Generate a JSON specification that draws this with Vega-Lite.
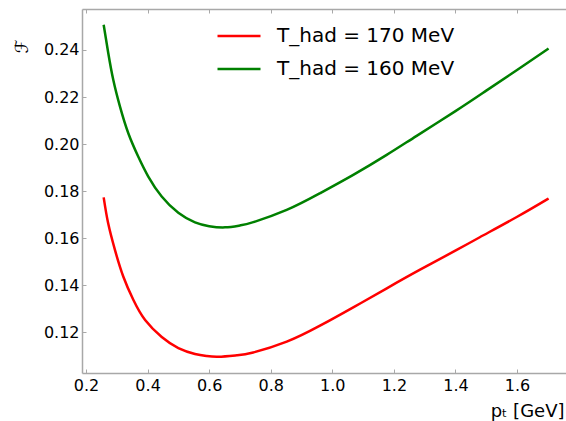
{
  "$schema": "https://vega.github.io/schema/vega-lite/v6.json",
  "width": 484,
  "height": 364,
  "autosize": {"type": "none"},
  "padding": {"left": 82, "top": 9, "right": 0, "bottom": 48},
  "background": "white",
  "config": {
    "view": {"stroke": null},
    "font": "DejaVu Sans",
    "axis": {
      "grid": false,
      "domainColor": "#a8a8a8",
      "domainWidth": 1.5,
      "tickColor": "#a8a8a8",
      "tickSize": -4,
      "tickWidth": 1,
      "labelFont": "DejaVu Sans",
      "labelFontSize": 16,
      "labelColor": "#000000",
      "titleFont": "DejaVu Sans",
      "titleColor": "#000000",
      "titleFontWeight": "normal"
    }
  },
  "data": {
    "values": [
      {"pT": 0.258, "F": 0.1768, "series": "T_had =  170 MeV"},
      {"pT": 0.272, "F": 0.1663, "series": "T_had =  170 MeV"},
      {"pT": 0.294, "F": 0.1550, "series": "T_had =  170 MeV"},
      {"pT": 0.321, "F": 0.1437, "series": "T_had =  170 MeV"},
      {"pT": 0.354, "F": 0.1337, "series": "T_had =  170 MeV"},
      {"pT": 0.392, "F": 0.1252, "series": "T_had =  170 MeV"},
      {"pT": 0.446, "F": 0.1180, "series": "T_had =  170 MeV"},
      {"pT": 0.500, "F": 0.1133, "series": "T_had =  170 MeV"},
      {"pT": 0.554, "F": 0.1108, "series": "T_had =  170 MeV"},
      {"pT": 0.592, "F": 0.1099, "series": "T_had =  170 MeV"},
      {"pT": 0.630, "F": 0.1096, "series": "T_had =  170 MeV"},
      {"pT": 0.690, "F": 0.1102, "series": "T_had =  170 MeV"},
      {"pT": 0.743, "F": 0.1114, "series": "T_had =  170 MeV"},
      {"pT": 0.852, "F": 0.1160, "series": "T_had =  170 MeV"},
      {"pT": 0.960, "F": 0.1228, "series": "T_had =  170 MeV"},
      {"pT": 1.068, "F": 0.1306, "series": "T_had =  170 MeV"},
      {"pT": 1.177, "F": 0.1387, "series": "T_had =  170 MeV"},
      {"pT": 1.285, "F": 0.1466, "series": "T_had =  170 MeV"},
      {"pT": 1.404, "F": 0.1550, "series": "T_had =  170 MeV"},
      {"pT": 1.479, "F": 0.1604, "series": "T_had =  170 MeV"},
      {"pT": 1.599, "F": 0.1690, "series": "T_had =  170 MeV"},
      {"pT": 1.699, "F": 0.1766, "series": "T_had =  170 MeV"},
      {"pT": 0.258, "F": 0.2502, "series": "T_had =  160 MeV"},
      {"pT": 0.2724, "F": 0.2386, "series": "T_had =  160 MeV"},
      {"pT": 0.2887, "F": 0.2272, "series": "T_had =  160 MeV"},
      {"pT": 0.3104, "F": 0.2159, "series": "T_had =  160 MeV"},
      {"pT": 0.3374, "F": 0.2046, "series": "T_had =  160 MeV"},
      {"pT": 0.3699, "F": 0.1946, "series": "T_had =  160 MeV"},
      {"pT": 0.4023, "F": 0.1862, "series": "T_had =  160 MeV"},
      {"pT": 0.4459, "F": 0.1777, "series": "T_had =  160 MeV"},
      {"pT": 0.4998, "F": 0.1708, "series": "T_had =  160 MeV"},
      {"pT": 0.554, "F": 0.1667, "series": "T_had =  160 MeV"},
      {"pT": 0.600, "F": 0.1651, "series": "T_had =  160 MeV"},
      {"pT": 0.6514, "F": 0.1646, "series": "T_had =  160 MeV"},
      {"pT": 0.700, "F": 0.1654, "series": "T_had =  160 MeV"},
      {"pT": 0.7434, "F": 0.1668, "series": "T_had =  160 MeV"},
      {"pT": 0.8518, "F": 0.1720, "series": "T_had =  160 MeV"},
      {"pT": 0.960, "F": 0.1791, "series": "T_had =  160 MeV"},
      {"pT": 1.068, "F": 0.1869, "series": "T_had =  160 MeV"},
      {"pT": 1.1766, "F": 0.1954, "series": "T_had =  160 MeV"},
      {"pT": 1.274, "F": 0.2035, "series": "T_had =  160 MeV"},
      {"pT": 1.400, "F": 0.2140, "series": "T_had =  160 MeV"},
      {"pT": 1.500, "F": 0.2227, "series": "T_had =  160 MeV"},
      {"pT": 1.600, "F": 0.2315, "series": "T_had =  160 MeV"},
      {"pT": 1.699, "F": 0.2403, "series": "T_had =  160 MeV"}
    ]
  },
  "layer": [
    {
      "mark": {"type": "line", "strokeWidth": 2.5, "interpolate": "natural", "strokeCap": "square"},
      "encoding": {
        "x": {
          "field": "pT", "type": "quantitative",
          "scale": {"domain": [0.187, 1.759], "nice": false, "zero": false},
          "axis": {
            "orient": "bottom",
            "values": [0.2, 0.4, 0.6, 0.8, 1.0, 1.2, 1.4, 1.6],
            "format": ".1f",
            "labelPadding": 8,
            "title": "pₜ [GeV]",
            "titleFontSize": 18,
            "titleAlign": "right",
            "titleBaseline": "alphabetic",
            "titleX": 482,
            "titleY": 43
          }
        },
        "y": {
          "field": "F", "type": "quantitative",
          "scale": {"domain": [0.1027, 0.2574], "nice": false, "zero": false},
          "axis": {
            "values": [0.12, 0.14, 0.16, 0.18, 0.20, 0.22, 0.24],
            "format": ".2f",
            "labelPadding": 7,
            "title": "ℱ",
            "titleFontSize": 18,
            "titleAngle": -90,
            "titleAlign": "center",
            "titleBaseline": "middle",
            "titleX": -60,
            "titleY": 37
          }
        },
        "color": {
          "field": "series", "type": "nominal",
          "scale": {"domain": ["T_had =  170 MeV", "T_had =  160 MeV"], "range": ["#ff0000", "#008000"]},
          "legend": {
            "orient": "none",
            "legendX": 134,
            "legendY": 4,
            "title": null,
            "padding": 0,
            "symbolType": "stroke",
            "symbolSize": 1849,
            "symbolStrokeWidth": 2.5,
            "labelFontSize": 20,
            "labelFont": "DejaVu Sans",
            "labelColor": "#000000",
            "labelOffset": 15,
            "labelLimit": 0,
            "rowPadding": -16
          }
        }
      }
    },
    {
      "mark": {"type": "line", "opacity": 0},
      "encoding": {
        "x": {
          "field": "pT", "type": "quantitative",
          "axis": {
            "orient": "top",
            "values": [0.2, 0.4, 0.6, 0.8, 1.0, 1.2, 1.4, 1.6],
            "labels": false,
            "title": null
          }
        },
        "y": {"field": "F", "type": "quantitative"},
        "detail": {"field": "series", "type": "nominal"}
      }
    }
  ],
  "resolve": {"axis": {"x": "independent"}}
}
